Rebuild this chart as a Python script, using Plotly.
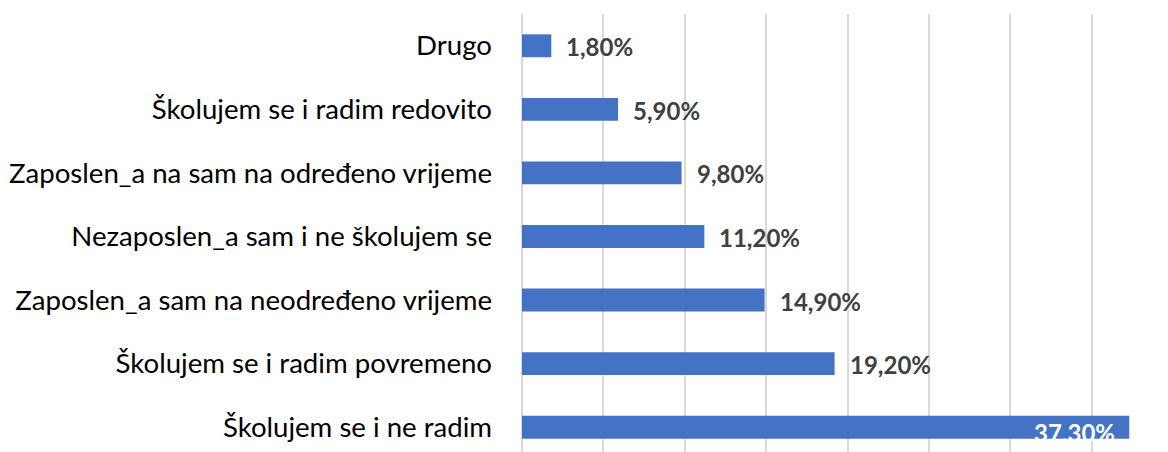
import plotly.graph_objects as go

categories = [
    "Školujem se i ne radim",
    "Školujem se i radim povremeno",
    "Zaposlen_a sam na neodređeno vrijeme",
    "Nezaposlen_a sam i ne školujem se",
    "Zaposlen_a na sam na određeno vrijeme",
    "Školujem se i radim redovito",
    "Drugo",
]
values = [37.3, 19.2, 14.9, 11.2, 9.8, 5.9, 1.8]
labels = ["37,30%", "19,20%", "14,90%", "11,20%", "9,80%", "5,90%", "1,80%"]

BAR = "#4472C4"
GRID = "#D9D9D9"
FONT = "Lato"

fig = go.Figure()
fig.add_trace(go.Bar(
    x=values, y=categories, orientation="h",
    marker=dict(color=BAR, line=dict(width=0)),
    hoverinfo="skip",
))

for c, v, t in zip(categories, values, labels):
    if v > 30:
        fig.add_annotation(x=v, y=c, text="<b>%s</b>" % t, showarrow=False,
                           xanchor="right", xshift=-12, yshift=-5,
                           font=dict(family=FONT, size=24, color="white"))
    else:
        fig.add_annotation(x=v, y=c, text="<b>%s</b>" % t, showarrow=False,
                           xanchor="left", xshift=13, yshift=-1,
                           font=dict(family=FONT, size=24, color="#404040"))

fig.update_layout(
    width=1168, height=452,
    margin=dict(l=522, r=0, t=14, b=0),
    paper_bgcolor="white", plot_bgcolor="white",
    bargap=0.64,
    showlegend=False,
    font=dict(family=FONT, color="#000000"),
)
fig.update_xaxes(range=[0, 39.68], dtick=5, showgrid=True, gridcolor=GRID, gridwidth=1.5,
                 showticklabels=False, zeroline=True, zerolinecolor=GRID, zerolinewidth=1.5,
                 showline=False, ticks="", fixedrange=True)
fig.update_yaxes(categoryorder="array", categoryarray=categories, range=[-0.39, 6.5],
                 showgrid=False, ticks="", showline=False, ticklabelstandoff=29,
                 tickfont=dict(family=FONT, size=27.6, color="#000000"), fixedrange=True)

fig.write_html("out.html", config={"displayModeBar": False},
               post_script="document.body.style.margin='0';document.body.style.overflow='hidden';")
